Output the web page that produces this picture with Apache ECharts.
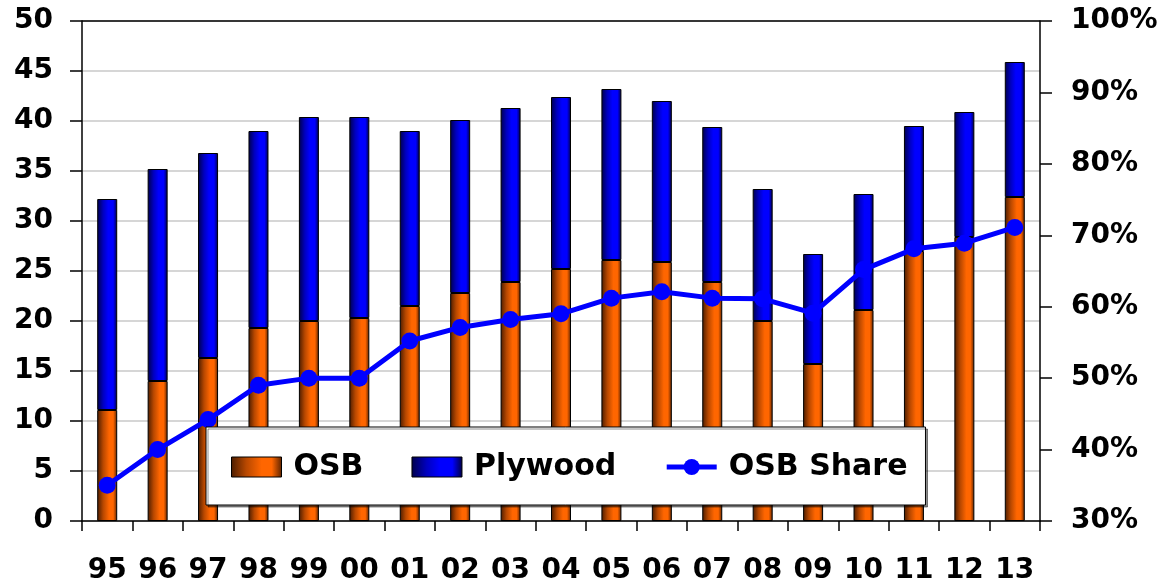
<!DOCTYPE html>
<html>
<head>
<meta charset="utf-8">
<script src="https://cdn.jsdelivr.net/npm/echarts@6/dist/echarts.min.js"></script>
<style>
  html, body { margin: 0; padding: 0; background: #fff; }
  #chart { width: 1163px; height: 585px; }
</style>
</head>
<body>
<div id="chart"></div>
<script>
// Production by year (billion sq ft) and OSB share of the total (%)
const years = ['95','96','97','98','99','00','01','02','03','04','05','06','07','08','09','10','11','12','13'];
const osb = [11.1, 14.0, 16.3, 19.3, 20.0, 20.3, 21.5, 22.8, 23.9, 25.2, 26.1, 25.9, 23.9, 20.0, 15.7, 21.1, 27.0, 28.4, 32.4];
const plywood = [21.1, 21.2, 20.5, 19.7, 20.4, 20.1, 17.5, 17.3, 17.4, 17.2, 17.1, 16.1, 15.5, 13.2, 11.0, 11.6, 12.5, 12.5, 13.5];
const osbShare = [35.0, 40.0, 44.2, 49.0, 50.0, 50.0, 55.2, 57.1, 58.2, 59.0, 61.2, 62.1, 61.2, 61.1, 59.1, 65.2, 68.1, 68.9, 71.1];

const FONT = 'DejaVu Sans';
const G = echarts.graphic.LinearGradient;

const orangeFill = new G(0, 0, 1, 0, [
  { offset: 0, color: '#4a1c00' },
  { offset: 0.3, color: '#b84800' },
  { offset: 0.6, color: '#ff6600' },
  { offset: 0.8, color: '#ff6600' },
  { offset: 1, color: '#5a2200' }
]);
const blueFill = new G(0, 0, 1, 0, [
  { offset: 0, color: '#00004a' },
  { offset: 0.3, color: '#0000c0' },
  { offset: 0.55, color: '#0000ff' },
  { offset: 0.8, color: '#0000ff' },
  { offset: 1, color: '#000040' }
]);

const chart = echarts.init(document.getElementById('chart'), null, { renderer: 'canvas' });

chart.setOption({
  animation: false,
  backgroundColor: '#ffffff',
  grid: {
    left: 82, right: 123, top: 21, bottom: 60,
    show: false
  },
  legend: {
    left: 206, top: 427,
    orient: 'horizontal',
    backgroundColor: '#ffffff',
    borderColor: '#000', borderWidth: 1, borderRadius: 0,
    shadowColor: 'rgba(0,0,0,0.45)', shadowOffsetX: 2, shadowOffsetY: 2, shadowBlur: 0,
    padding: [25, 18, 23, 25],
    itemWidth: 50, itemHeight: 20, itemGap: 48,
    textStyle: { fontFamily: FONT, fontWeight: 'bold', fontSize: 30, color: '#000', padding: [0, 0, 0, 7] },
    data: [
      { name: 'OSB', icon: 'rect', itemStyle: { color: orangeFill, borderColor: '#000', borderWidth: 1 } },
      { name: 'Plywood', icon: 'rect', itemStyle: { color: blueFill, borderColor: '#000', borderWidth: 1 } },
      { name: 'OSB Share', lineStyle: { color: '#0000ff', width: 5 }, itemStyle: { color: '#0000ff' } }
    ]
  },
  xAxis: {
    type: 'category',
    data: years,
    boundaryGap: true,
    axisLine: { show: true, lineStyle: { color: '#000', width: 1.5 } },
    axisTick: { show: true, length: 10, lineStyle: { color: '#000', width: 1.5 } },
    axisLabel: { fontFamily: FONT, fontWeight: 'bold', fontSize: 28, color: '#000', margin: 36, interval: 0 },
    splitLine: { show: false }
  },
  yAxis: [
    {
      type: 'value', min: 0, max: 50, interval: 5,
      axisLine: { show: true, lineStyle: { color: '#000', width: 1.5 } },
      axisTick: { show: true, length: 12, lineStyle: { color: '#000', width: 1.5 } },
      axisLabel: { fontFamily: FONT, fontWeight: 'bold', fontSize: 28, color: '#000', margin: 29 },
      splitLine: { show: true, lineStyle: { color: '#c8c8c8', width: 1.5 } }
    },
    {
      type: 'value', min: 30, max: 100, interval: 10,
      position: 'right',
      axisLine: { show: true, lineStyle: { color: '#000', width: 1.5 } },
      axisTick: { show: true, length: 12, lineStyle: { color: '#000', width: 1.5 } },
      axisLabel: { fontFamily: FONT, fontWeight: 'bold', fontSize: 28, color: '#000', margin: 31, formatter: '{value}%' },
      splitLine: { show: false }
    }
  ],
  series: [
    {
      name: 'OSB', type: 'bar', stack: 'total', data: osb, barWidth: 20,
      itemStyle: { color: orangeFill, borderColor: '#000', borderWidth: 1 },
      // plot-area top border along the 50 line
      markLine: {
        silent: true, symbol: 'none', animation: false,
        label: { show: false },
        lineStyle: { color: '#000', width: 1.5, type: 'solid' },
        data: [{ yAxis: 50 }]
      },
      z: 2
    },
    {
      name: 'Plywood', type: 'bar', stack: 'total', data: plywood, barWidth: 20,
      itemStyle: { color: blueFill, borderColor: '#000', borderWidth: 1 },
      z: 2
    },
    {
      name: 'OSB Share', type: 'line', yAxisIndex: 1, data: osbShare,
      symbol: 'circle', symbolSize: 17, showSymbol: true,
      lineStyle: { color: '#0000ff', width: 5 },
      itemStyle: { color: '#0000ff' },
      z: 3
    }
  ]
});
</script>
</body>
</html>
